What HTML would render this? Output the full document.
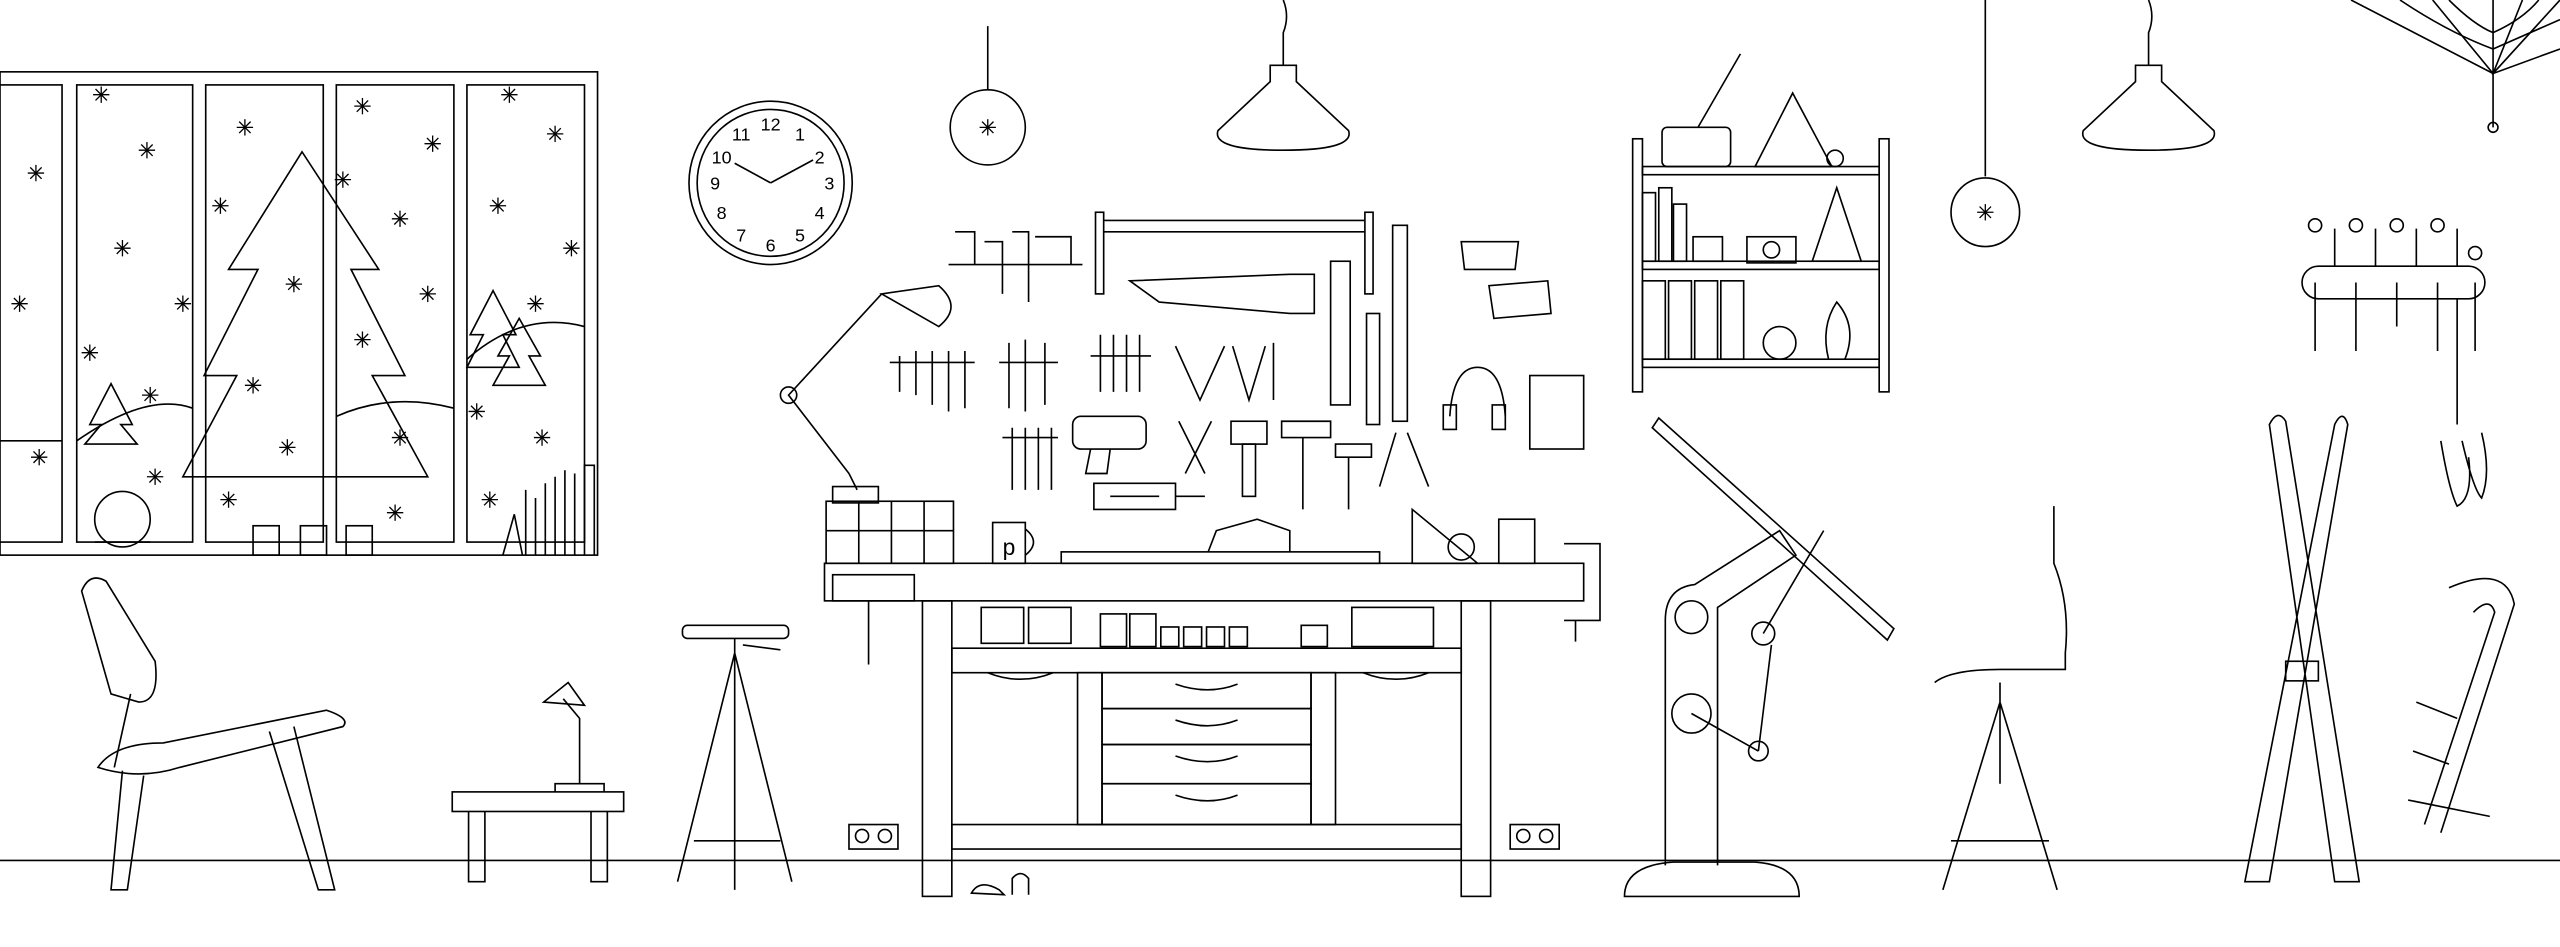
<!DOCTYPE html>
<html><head><meta charset="utf-8"><style>
html,body{margin:0;padding:0;background:#fff;}
svg{display:block;}
text{font-family:"Liberation Sans",sans-serif;}
</style></head><body>
<svg width="2560" height="947" viewBox="0 0 1568 580" preserveAspectRatio="none" xmlns="http://www.w3.org/2000/svg">
<defs>
<g id="sf" stroke="#000" stroke-width="0.8" fill="none">
<line x1="-5" y1="0" x2="5" y2="0"/><line x1="0" y1="-5" x2="0" y2="5"/>
<line x1="-3.5" y1="-3.5" x2="3.5" y2="3.5"/><line x1="-3.5" y1="3.5" x2="3.5" y2="-3.5"/>
</g>
</defs>
<g fill="none" stroke="#000" stroke-width="1">
<!-- floor -->
<line x1="0" y1="527" x2="1568" y2="527"/>
<!-- window -->
<rect x="0" y="44" width="366" height="296"/>
<rect x="-2" y="52" width="40" height="280"/>
<rect x="47" y="52" width="71" height="280"/>
<rect x="126" y="52" width="72" height="280"/>
<rect x="206" y="52" width="72" height="280"/>
<rect x="286" y="52" width="72" height="280"/>
<line x1="0" y1="270" x2="38" y2="270"/>
<path d="M47 270 Q90 240 118 250"/><path d="M206 255 Q240 240 278 250"/><path d="M286 220 Q320 190 358 200"/>
<path d="M185 93 L140 165 L158 165 L125 230 L145 230 L112 292 L262 292 L228 230 L248 230 L215 165 L232 165 Z"/>
<path d="M68 235 L55 260 L62 260 L52 272 L84 272 L74 260 L81 260 Z"/>
<path d="M302 178 L288 205 L296 205 L286 225 L318 225 L308 205 L316 205 Z"/>
<path d="M318 195 L305 218 L312 218 L302 236 L334 236 L324 218 L331 218 Z"/>
<circle cx="75" cy="318" r="17"/><line x1="58" y1="332" x2="92" y2="332"/>
<rect x="155" y="322" width="16" height="18"/><rect x="184" y="322" width="16" height="18"/><rect x="212" y="322" width="16" height="18"/>
<path d="M308 340 L315 315 L320 340 M322 340 V300 M328 340 V305 M334 340 V296 M340 340 V292 M346 340 V288 M352 340 V290 M358 340 V285 L364 285 V340"/>
<!-- clock -->
<circle cx="472" cy="112" r="50"/><circle cx="472" cy="112" r="45"/>
<line x1="472" y1="112" x2="450" y2="100"/><line x1="472" y1="112" x2="498" y2="98"/>
<!-- ornaments -->
<line x1="605" y1="16" x2="605" y2="55"/><circle cx="605" cy="78" r="23"/>
<line x1="1216" y1="0" x2="1216" y2="108"/><circle cx="1216" cy="130" r="21"/>
<!-- lamps -->
<path d="M786 0 Q790 10 786 20 V40"/><path d="M778 40 H794 V50 L826 80 Q830 92 786 92 Q742 92 746 80 L778 50 Z"/>
<path d="M1316 0 Q1320 10 1316 20 V40"/><path d="M1308 40 H1324 V50 L1356 80 Q1360 92 1316 92 Q1272 92 1276 80 L1308 50 Z"/>
<!-- web -->
<path d="M1440 0 L1527 45 L1568 0 M1490 0 L1527 45 L1527 0 M1568 30 L1527 45 L1545 0 M1527 45 V78"/>
<path d="M1470 0 Q1500 20 1527 30 Q1550 20 1568 12 M1500 0 Q1515 15 1527 20 Q1545 12 1555 0"/>
<circle cx="1527" cy="78" r="3"/>
<!-- shelf -->
<rect x="1000" y="85" width="6" height="155"/><rect x="1151" y="85" width="6" height="155"/>
<rect x="1006" y="102" width="145" height="5"/><rect x="1006" y="160" width="145" height="5"/><rect x="1006" y="220" width="145" height="5"/>
<rect x="1018" y="78" width="42" height="24" rx="3"/><line x1="1040" y1="78" x2="1066" y2="33"/>
<path d="M1075 102 L1098 57 L1122 102 Z"/><circle cx="1124" cy="97" r="5"/>
<rect x="1006" y="118" width="8" height="42"/><rect x="1016" y="115" width="8" height="45"/><rect x="1025" y="125" width="8" height="35"/><rect x="1037" y="145" width="18" height="15"/>
<rect x="1070" y="145" width="30" height="16"/><circle cx="1085" cy="153" r="5"/>
<path d="M1125 115 L1110 160 L1140 160 Z"/>
<rect x="1006" y="172" width="14" height="48"/><rect x="1022" y="172" width="14" height="48"/><rect x="1038" y="172" width="14" height="48"/><rect x="1054" y="172" width="14" height="48"/>
<circle cx="1090" cy="210" r="10"/><path d="M1120 220 Q1115 200 1125 185 Q1138 200 1130 220"/>
<!-- coat rack -->
<rect x="1410" y="163" width="112" height="20" rx="10"/>
<path d="M1418 173 V215 M1443 173 V215 M1468 173 V200 M1493 173 V215 M1516 173 V215 M1430 163 V140 M1455 163 V140 M1480 163 V140 M1505 163 V140"/>
<circle cx="1418" cy="138" r="4"/><circle cx="1443" cy="138" r="4"/><circle cx="1468" cy="138" r="4"/><circle cx="1493" cy="138" r="4"/><circle cx="1516" cy="155" r="4"/>
<path d="M1505 183 V260 M1495 270 Q1500 300 1505 310 Q1515 305 1512 280 M1508 270 Q1515 300 1520 305 Q1526 290 1520 265"/>
<!-- pegboard tools -->
<rect x="671" y="130" width="5" height="50"/><rect x="836" y="130" width="5" height="50"/><line x1="676" y1="135" x2="836" y2="135"/><line x1="676" y1="142" x2="836" y2="142"/>
<path d="M692 172 L790 168 L805 168 V192 L790 192 L710 185 Z"/>
<rect x="815" y="160" width="12" height="88"/><rect x="837" y="192" width="8" height="68"/><rect x="853" y="138" width="9" height="120"/>
<path d="M581 162 H663 M585 142 H597 V162 M603 148 H614 V180 M620 142 H630 V185 M634 145 H656 V162"/>
<path d="M545 222 H597 M551 218 V240 M561 215 V242 M571 215 V248 M581 215 V252 M591 215 V250"/>
<path d="M612 222 H648 M618 210 V250 M628 208 V252 M640 210 V248 M668 218 H705 M674 205 V240 M682 205 V240 M690 205 V240 M698 205 V240"/>
<path d="M614 268 H648 M620 262 V300 M628 262 V300 M636 262 V300 M644 262 V300"/>
<path d="M720 212 L735 245 L750 212 M755 212 L765 245 L775 212 M780 210 V245"/>
<rect x="657" y="255" width="45" height="20" rx="5"/><path d="M668 275 L665 290 L678 290 L680 275"/>
<path d="M722 258 L738 290 M742 258 L726 290"/><rect x="754" y="258" width="22" height="14"/><rect x="761" y="272" width="8" height="32"/>
<path d="M785 258 H815 V268 H785 Z M798 268 V312 M818 272 H840 V280 H818 Z M826 280 V312"/>
<path d="M855 265 L845 298 M862 265 L875 298"/>
<path d="M670 296 H720 V312 H670 Z M680 304 H710"/><line x1="720" y1="304" x2="738" y2="304"/>
<path d="M895 148 L930 148 L928 165 L897 165 Z M912 175 L948 172 L950 192 L915 195 Z"/>
<path d="M888 255 Q890 225 905 225 Q920 225 922 255"/><rect x="884" y="248" width="8" height="15"/><rect x="914" y="248" width="8" height="15"/>
<rect x="937" y="230" width="33" height="45"/>
<!-- desk lamp -->
<path d="M540 180 L483 242 L520 290 M525 300 L520 290"/><circle cx="483" cy="242" r="5"/>
<path d="M540 180 L575 175 Q590 188 575 200 Z"/><rect x="510" y="298" width="28" height="10"/>
<!-- workbench -->
<rect x="505" y="345" width="465" height="23"/>
<rect x="565" y="368" width="18" height="181"/><rect x="895" y="368" width="18" height="181"/>
<rect x="583" y="397" width="312" height="15"/><rect x="583" y="505" width="312" height="15"/>
<rect x="660" y="412" width="15" height="93"/><rect x="803" y="412" width="15" height="93"/>
<rect x="675" y="412" width="128" height="22"/><rect x="675" y="434" width="128" height="22"/><rect x="675" y="456" width="128" height="24"/><rect x="675" y="480" width="128" height="25"/>
<path d="M720 419 Q740 426 758 419 M720 441 Q740 448 758 441 M720 463 Q740 470 758 463 M720 487 Q740 494 758 487 M605 412 Q625 420 645 412 M835 412 Q855 420 875 412"/>
<rect x="510" y="352" width="50" height="16"/><line x1="532" y1="368" x2="532" y2="407"/>
<path d="M958 333 H980 V380 H958 M965 380 V393"/>
<rect x="601" y="372" width="26" height="22"/><rect x="630" y="372" width="26" height="22"/>
<rect x="674" y="376" width="16" height="20"/><rect x="692" y="376" width="16" height="20"/><rect x="711" y="384" width="11" height="12"/><rect x="725" y="384" width="11" height="12"/><rect x="739" y="384" width="11" height="12"/><rect x="753" y="384" width="11" height="12"/>
<rect x="797" y="383" width="16" height="13"/><rect x="828" y="372" width="50" height="24"/>
<rect x="506" y="307" width="78" height="38"/><line x1="506" y1="325" x2="584" y2="325"/><line x1="526" y1="307" x2="526" y2="345"/><line x1="546" y1="307" x2="546" y2="345"/><line x1="566" y1="307" x2="566" y2="345"/>
<rect x="608" y="320" width="20" height="25"/><path d="M628 324 Q638 332 628 340"/>
<rect x="650" y="338" width="195" height="7"/><path d="M740 338 L745 325 L770 318 L790 325 L790 338"/>
<path d="M865 345 V312 L905 345 Z"/><circle cx="895" cy="335" r="8"/><rect x="918" y="318" width="22" height="27"/>
<!-- outlets -->
<rect x="520" y="505" width="30" height="15"/><circle cx="528" cy="512" r="4"/><circle cx="542" cy="512" r="4"/>
<rect x="925" y="505" width="30" height="15"/><circle cx="933" cy="512" r="4"/><circle cx="947" cy="512" r="4"/>
<path d="M595 547 Q600 538 612 545 L615 548 Z M620 548 V538 Q625 532 630 538 V548"/>
<!-- drafting table -->
<path d="M1012 262 L1016 256 L1160 385 L1156 392 Z"/>
<path d="M1020 530 V380 Q1020 360 1038 358 L1090 325 L1100 340 L1052 372 L1052 530"/>
<circle cx="1036" cy="378" r="10"/><circle cx="1036" cy="437" r="12"/><circle cx="1080" cy="388" r="7"/><circle cx="1077" cy="460" r="6"/>
<path d="M1036 437 L1077 460 M1080 388 L1117 325 M1077 460 L1085 395"/>
<path d="M995 549 Q995 530 1025 528 H1075 Q1102 530 1102 549 Z"/>
<!-- left chair -->
<path d="M50 362 Q55 350 65 356 L95 405 Q98 430 85 430 L68 425 Z"/>
<path d="M60 470 Q70 455 100 455 L200 435 Q215 440 210 445 L110 470 Q85 478 60 470 Z"/>
<path d="M75 472 L68 545 L78 545 L88 475 M165 448 L195 545 L205 545 L180 445 M80 425 L70 470"/>
<!-- side table -->
<rect x="277" y="485" width="105" height="12"/><path d="M287 497 V540 H297 V497 M362 497 V540 H372 V497"/>
<path d="M340 485 V480 H370 V485 M355 480 V440 L345 428"/><path d="M333 430 L348 418 L358 432 Z"/>
<!-- stool -->
<rect x="418" y="383" width="65" height="8" rx="3"/><path d="M450 391 V480 M450 400 L415 540 M450 400 L485 540 M450 400 V545 M425 515 H478 M455 395 L478 398"/>
<!-- right chair -->
<path d="M1185 418 Q1195 410 1225 410 H1265 V400 Q1268 370 1258 345 V310"/>
<path d="M1225 418 V480 M1225 430 L1190 545 M1225 430 L1260 545 M1195 515 H1255"/>
<!-- skis -->
<path d="M1390 260 Q1395 250 1400 258 L1445 540 L1430 540 Z M1430 260 Q1435 250 1438 260 L1390 540 L1375 540 Z"/>
<rect x="1400" y="405" width="20" height="12"/>
<!-- sled -->
<path d="M1500 360 Q1535 345 1540 370 L1495 510 M1515 375 Q1525 365 1528 375 L1485 505 M1475 490 L1525 500"/>
<path d="M1480 430 L1505 440 M1478 460 L1500 468"/>
</g>
<!-- snowflakes -->
<g>
<use href="#sf" x="62" y="58"/><use href="#sf" x="150" y="78"/><use href="#sf" x="90" y="92"/><use href="#sf" x="22" y="106"/><use href="#sf" x="135" y="126"/><use href="#sf" x="75" y="152"/><use href="#sf" x="12" y="186"/><use href="#sf" x="112" y="186"/><use href="#sf" x="55" y="216"/><use href="#sf" x="92" y="242"/><use href="#sf" x="155" y="236"/><use href="#sf" x="180" y="174"/><use href="#sf" x="176" y="274"/><use href="#sf" x="24" y="280"/><use href="#sf" x="95" y="292"/><use href="#sf" x="140" y="306"/><use href="#sf" x="222" y="65"/><use href="#sf" x="265" y="88"/><use href="#sf" x="210" y="110"/><use href="#sf" x="245" y="134"/><use href="#sf" x="262" y="180"/><use href="#sf" x="222" y="208"/><use href="#sf" x="245" y="268"/><use href="#sf" x="242" y="314"/><use href="#sf" x="312" y="58"/><use href="#sf" x="340" y="82"/><use href="#sf" x="305" y="126"/><use href="#sf" x="350" y="152"/><use href="#sf" x="328" y="186"/><use href="#sf" x="292" y="252"/><use href="#sf" x="332" y="268"/><use href="#sf" x="300" y="306"/><use href="#sf" x="605" y="78"/><use href="#sf" x="1216" y="130"/>
</g>
<g font-size="11" text-anchor="middle" fill="#000">
<text x="472" y="80">12</text><text x="508" y="116">3</text><text x="472" y="154">6</text><text x="438" y="116">9</text>
<text x="490" y="86">1</text><text x="502" y="100">2</text><text x="502" y="134">4</text><text x="490" y="148">5</text><text x="454" y="148">7</text><text x="442" y="134">8</text><text x="442" y="100">10</text><text x="454" y="86">11</text>
<text x="618" y="340" font-size="14">p</text>
</g>
</svg>
</body></html>
